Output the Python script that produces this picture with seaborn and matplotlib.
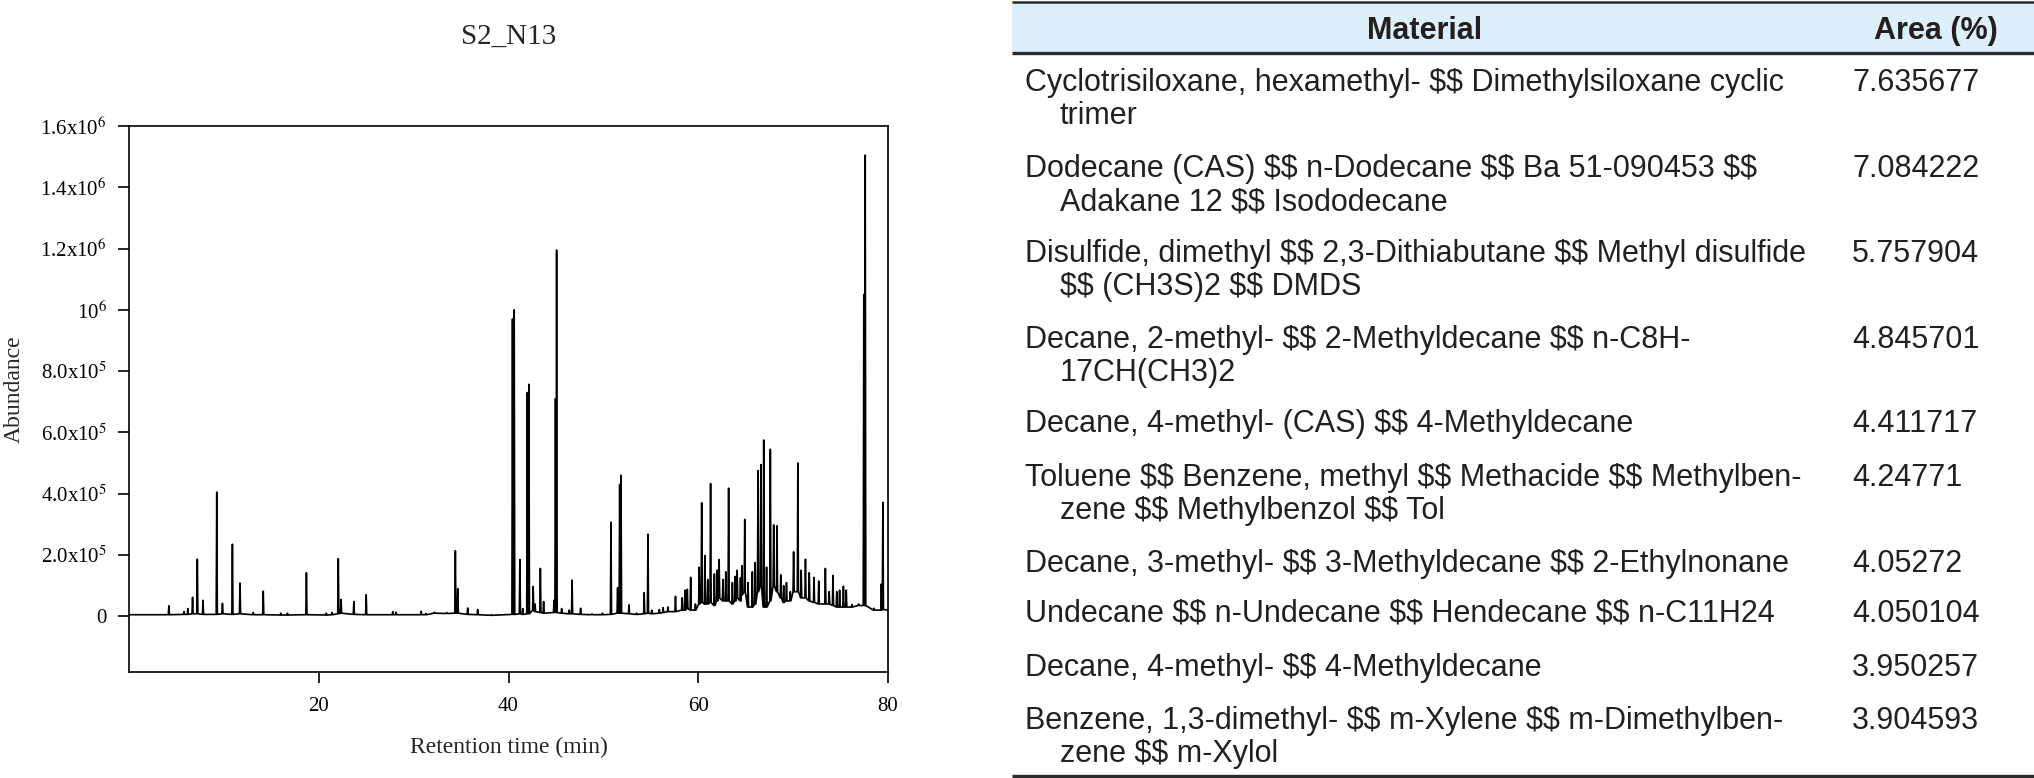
import numpy as np
import pandas as pd
import matplotlib
matplotlib.use("Agg")
import matplotlib.pyplot as plt
from matplotlib.patches import Rectangle
from matplotlib.ticker import FixedLocator, FixedFormatter
import seaborn as sns

# ---- chromatogram peaks (min, abundance, foot level)
peak_time = [4.2, 5.8, 6.2, 6.7, 7.2, 7.8, 9.25, 9.85, 10.9, 11.7,
             13.1, 14.15, 16.0, 16.7, 18.7, 20.8, 21.4, 22.06, 22.35, 23.7,
             25.0, 27.8, 28.15, 30.8, 31.3, 32.2, 33.5, 34.4, 34.65, 35.7,
             36.75, 38.2, 40.42, 40.6, 41.2, 41.5, 41.98, 42.15, 42.6, 42.8,
             43.36, 43.7, 44.8, 44.95, 45.07, 45.6, 46.4, 46.7, 47.6, 48.8,
             49.9, 50.8, 51.5, 51.72, 51.86, 52.7, 53.5, 54.3, 54.7, 55.1,
             55.9, 56.3, 56.8, 57.6, 58.3, 58.6, 58.85, 59.2, 59.7, 60.1,
             60.36, 60.7, 61.0, 61.3, 61.7, 62.0, 62.2, 62.6, 62.9, 63.2,
             63.6, 63.9, 64.1, 64.45, 64.6, 64.9, 65.25, 65.7, 66.0, 66.3,
             66.6, 66.9, 67.2, 67.6, 67.95, 68.3, 68.7, 69.0, 69.3, 69.7,
             70.05, 70.5, 70.85, 71.3, 71.7, 72.2, 72.7, 73.4, 73.8, 74.2,
             74.6, 74.9, 75.3, 75.6, 76.2, 76.9, 77.45, 77.6, 78.5, 79.3,
             79.46]
peak_height = [3.4e4, 1.5e4, 2.5e4, 6.2e4, 1.86e5, 5.2e4, 4.05e5, 4.2e4, 2.35e5, 1.08e5,
               1.2e4, 8.2e4, 1.0e4, 1.0e4, 1.42e5, 1.0e4, 1.2e4, 1.88e5, 5.5e4, 4.8e4,
               7.0e4, 1.5e4, 1.3e4, 1.6e4, 9e3, 1.3e4, 1.2e4, 2.14e5, 9.0e4, 2.7e4,
               2.2e4, 5e3, 9.7e5, 1.0e6, 1.85e5, 2.5e4, 7.3e5, 7.57e5, 9.7e4, 4.0e4,
               1.56e5, 4.8e4, 5.2e4, 7.1e5, 1.195e6, 2.5e4, 2.0e4, 1.18e5, 2.6e4, 8e3,
               1.0e4, 3.07e5, 9.3e4, 4.3e5, 4.6e5, 3.7e4, 1.0e4, 7.7e4, 2.68e5, 2.0e4,
               2.2e4, 2.8e4, 3.0e4, 6.5e4, 6.0e4, 8.5e4, 8.8e4, 1.27e5, 4.0e4, 1.6e5,
               3.7e5, 1.98e5, 1.2e5, 4.33e5, 1.38e5, 1.5e5, 1.85e5, 1.2e5, 1.45e5, 4.18e5,
               1.1e5, 1.3e5, 1.5e5, 1.25e5, 1.65e5, 3.16e5, 1.1e5, 1.45e5, 1.75e5, 4.75e5,
               4.95e5, 5.75e5, 1.6e5, 5.45e5, 2.98e5, 2.95e5, 1.35e5, 1.0e5, 1.1e5, 8.0e4,
               2.1e5, 5.0e5, 1.5e5, 1.86e5, 1.42e5, 1.27e5, 1.15e5, 1.56e5, 8.0e4, 1.33e5,
               8.0e4, 8.5e4, 9.8e4, 8.5e4, 3.8e4, 4.0e4, 1.05e6, 1.505e6, 2.6e4, 1.05e5,
               3.72e5]
peak_foot = [5e3, 6e3, 6e3, 8e3, 8e3, 6e3, 6e3, 8e3, 6e3, 8e3,
             5e3, 5e3, 4e3, 4e3, 5e3, 4e3, 5e3, 8e3, 1.0e4, 6e3,
             5e3, 5e3, 5e3, 5e3, 5e3, 1.0e4, 9e3, 1.0e4, 1.0e4, 6e3,
             5e3, 3e3, 6e3, 6e3, 8e3, 6e3, 8e3, 8e3, 2.0e4, 1.5e4,
             1.2e4, 1.0e4, 1.2e4, 1.2e4, 1.2e4, 1.0e4, 8e3, 8e3, 6e3, 5e3,
             5e3, 6e3, 1.0e4, 1.0e4, 1.0e4, 8e3, 6e3, 8e3, 1.0e4, 8e3,
             1.0e4, 1.2e4, 1.5e4, 1.5e4, 2.0e4, 2.0e4, 2.5e4, 2.0e4, 2.0e4, 4.0e4,
             4.5e4, 4.0e4, 4.0e4, 4.5e4, 3.5e4, 5.0e4, 6.0e4, 5.0e4, 5.0e4, 5.0e4,
             4.0e4, 5.0e4, 6.0e4, 5.0e4, 7.0e4, 8.0e4, 3.0e4, 3.0e4, 4.0e4, 8.0e4,
             1.0e5, 3.0e4, 3.0e4, 5.0e4, 1.0e5, 8.0e4, 6.0e4, 4.5e4, 5.0e4, 5.0e4,
             8.0e4, 8.0e4, 6.0e4, 6.0e4, 5.0e4, 4.5e4, 4.0e4, 4.0e4, 4.0e4, 3.5e4,
             3.0e4, 3.0e4, 3.0e4, 3.0e4, 3.0e4, 3.5e4, 3.5e4, 3.5e4, 2.0e4, 2.0e4,
             2.2e4]
trace_start = 5e3
trace_end = 2.0e4

y_ticks = [0, 2e5, 4e5, 6e5, 8e5, 1e6, 1.2e6, 1.4e6, 1.6e6]
y_tick_labels = ["0", "2.0x10$^5$", "4.0x10$^5$", "6.0x10$^5$", "8.0x10$^5$",
                 "10$^6$", "1.2x10$^6$", "1.4x10$^6$", "1.6x10$^6$"]
x_ticks = [20, 40, 60, 80]

# ---- table on the right
materials = [
    "Cyclotrisiloxane, hexamethyl- $$ Dimethylsiloxane cyclic\ntrimer",
    "Dodecane (CAS) $$ n-Dodecane $$ Ba 51-090453 $$\nAdakane 12 $$ Isododecane",
    "Disulfide, dimethyl $$ 2,3-Dithiabutane $$ Methyl disulfide\n$$ (CH3S)2 $$ DMDS",
    "Decane, 2-methyl- $$ 2-Methyldecane $$ n-C8H-\n17CH(CH3)2",
    "Decane, 4-methyl- (CAS) $$ 4-Methyldecane",
    "Toluene $$ Benzene, methyl $$ Methacide $$ Methylben-\nzene $$ Methylbenzol $$ Tol",
    "Decane, 3-methyl- $$ 3-Methyldecane $$ 2-Ethylnonane",
    "Undecane $$ n-Undecane $$ Hendecane $$ n-C11H24",
    "Decane, 4-methyl- $$ 4-Methyldecane",
    "Benzene, 1,3-dimethyl- $$ m-Xylene $$ m-Dimethylben-\nzene $$ m-Xylol",
]
area_pct = [7.635677, 7.084222, 5.757904, 4.845701, 4.411717,
            4.24771, 4.05272, 4.050104, 3.950257, 3.904593]

# build the polyline from the peak list
w = 0.06
xs, ys = [0.0], [trace_start]
for t, h, f in zip(peak_time, peak_height, peak_foot):
    xs += [t - w, t, t + w]
    ys += [f, h, f]
xs.append(80.0)
ys.append(trace_end)
trace = pd.DataFrame({"time": xs, "abundance": ys})

sns.set_theme(style="ticks")
plt.rcParams["font.family"] = ["Liberation Serif", "DejaVu Serif"]
plt.rcParams["mathtext.fontset"] = "stix"

W, H = 2034, 778
fig = plt.figure(figsize=(W / 100, H / 100), dpi=100)

# table layer (pixel coordinates)
tab = fig.add_axes([0, 0, 1, 1])
tab.set_xlim(0, W)
tab.set_ylim(H, 0)
tab.axis("off")
ink = "#231F20"
tab.add_patch(Rectangle((1012, 2), W - 1012, 51, facecolor="#DDEFF9", edgecolor="none"))
tab.plot([1012, W], [2, 2], color="#2b2b2b", lw=1.8, solid_capstyle="butt")
tab.plot([1012, W], [53, 53], color="#2b2b2b", lw=2.4, solid_capstyle="butt")
tab.plot([1012, W], [776, 776], color="#2b2b2b", lw=2.4, solid_capstyle="butt")
sans = ["Liberation Sans", "DejaVu Sans"]
tab.text(1425, 39, "Material", ha="center", va="baseline", fontsize=22,
         fontweight="bold", family=sans, color=ink, parse_math=False)
tab.text(1936, 39, "Area (%)", ha="center", va="baseline", fontsize=22,
         fontweight="bold", family=sans, color=ink, parse_math=False)

row_base = [91, 177, 262, 348, 432, 486, 572, 622, 676, 729]
line_gap = 33
for name, val, yb in zip(materials, area_pct, row_base):
    lines = name.split("\n")
    tab.text(1025, yb, lines[0], ha="left", va="baseline", fontsize=22,
             family=sans, color=ink, parse_math=False)
    for k, ln in enumerate(lines[1:], start=1):
        tab.text(1060, yb + k * line_gap, ln, ha="left", va="baseline", fontsize=22,
                 family=sans, color=ink, parse_math=False)
    tab.text(1852, yb, str(val), ha="left", va="baseline", fontsize=22,
             family=sans, color=ink, parse_math=False)

# chromatogram
ax = fig.add_axes([129 / W, 1 - 672 / H, (888 - 129) / W, (672 - 126) / H])
sns.lineplot(data=trace, x="time", y="abundance", ax=ax, color="black",
             linewidth=1.2, estimator=None, sort=False)
ax.set_xlim(0, 80)
ax.set_ylim(-1.82e5, 1.6e6)
ax.xaxis.set_major_locator(FixedLocator(x_ticks))
ax.yaxis.set_major_locator(FixedLocator(y_ticks))
ax.yaxis.set_major_formatter(FixedFormatter(y_tick_labels))
ax.tick_params(axis="both", direction="out", length=8, width=1.2, colors="black",
               labelsize=15, pad=8)
ax.tick_params(axis="x", pad=10)
for s in ax.spines.values():
    s.set_linewidth(1.2)
    s.set_color("black")
ax.set_xlabel("Retention time (min)", fontsize=17)
ax.set_ylabel("Abundance", fontsize=17)
ax.xaxis.set_label_coords(0.5, -0.118)
ax.yaxis.set_label_coords(-0.137, 0.518)
ax.set_title("S2_N13", fontsize=21, y=1.15, pad=0)

fig.savefig("out.png", dpi=100)
